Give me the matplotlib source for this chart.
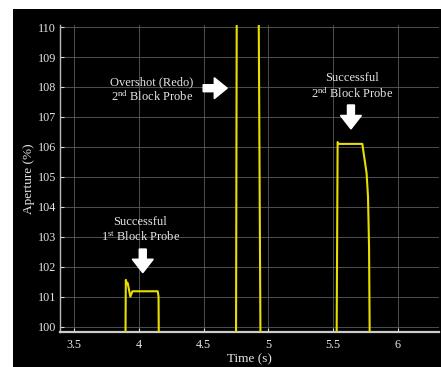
import matplotlib
matplotlib.use("Agg")
import matplotlib.pyplot as plt
from matplotlib.patches import Rectangle, FancyArrow
import numpy as np

# ---- data ----
time_s = [3.60, 3.889, 3.898, 3.905, 3.912, 3.933, 3.949, 4.145, 4.151, 4.160,
          4.60, 4.748, 4.758, 4.920, 4.945,
          5.40, 5.523, 5.536, 5.543, 5.727, 5.760, 5.771, 5.779, 5.792, 6.30]
aperture = [95.0, 95.0, 101.56, 101.45, 101.46, 101.00, 101.18, 101.18, 101.00, 95.0,
            95.0, 95.0, 115.0, 115.0, 95.0,
            95.0, 95.0, 106.16, 106.10, 106.10, 105.12, 104.34, 102.67, 95.0, 95.0]
x_ticks = [3.5, 4, 4.5, 5, 5.5, 6]
x_tick_labels = ["3.5", "4", "4.5", "5", "5.5", "6"]
y_ticks = list(range(100, 111))

plt.rcParams['font.family'] = ['Liberation Serif', 'DejaVu Serif']
plt.rcParams['mathtext.fontset'] = 'custom'
plt.rcParams['mathtext.rm'] = 'Liberation Serif'
plt.rcParams['mathtext.it'] = 'Liberation Serif:italic'

W, H = 441, 367
fig = plt.figure(figsize=(W / 100, H / 100), dpi=100, facecolor='white')
bg = Rectangle((13 / W, 0), 1 - 13 / W, (H - 9) / H,
               transform=fig.transFigure, facecolor='black',
               edgecolor='none', zorder=-10)
fig.add_artist(bg)

ax = fig.add_axes([60 / W, (H - 332) / H, (439 - 60) / W, (332 - 25) / H])
ax.set_facecolor('black')
ax.set_zorder(1)

ax.plot(time_s, aperture, color='#e8de00', lw=1.5, zorder=3)

ax.set_xlim(3.389, 6.32)
ax.set_ylim(99.82, 110.07)
ax.set_xticks(x_ticks)
ax.set_xticklabels(x_tick_labels)
ax.set_yticks(y_ticks)
ax.grid(True, color='#5c5c5c', lw=0.6)
ax.set_axisbelow(True)

for s in ['top', 'right']:
    ax.spines[s].set_visible(False)
ax.spines['left'].set_color('#bbbbbb')
ax.spines['left'].set_linewidth(1.0)
ax.spines['bottom'].set_color('#cccccc')
ax.spines['bottom'].set_linewidth(1.6)

ax.tick_params(direction='in', colors='#dddddd', labelcolor='#e6e6e6',
               labelsize=8.7, length=3, width=0.8)
ax.tick_params(axis='x', pad=5)
ax.tick_params(axis='y', pad=3)

ax.set_xlabel('Time (s)', color='#e6e6e6', fontsize=9.5, labelpad=2)
ax.set_ylabel('Aperture (%)', color='#e6e6e6', fontsize=9.5, labelpad=2)

tc = '#e6e6e6'
fs = 9
ax.text(4.01, 103.50, 'Successful', color=tc, fontsize=fs, ha='center', va='center')
ax.text(4.01, 102.98, r'1$^{\mathrm{st}}$ Block Probe', color=tc, fontsize=fs,
        ha='center', va='center')
ax.text(4.099, 108.16, 'Overshot (Redo)', color=tc, fontsize=fs, ha='center', va='center')
ax.text(4.099, 107.66, r'2$^{\mathrm{nd}}$ Block Probe', color=tc, fontsize=fs,
        ha='center', va='center')
ax.text(5.649, 108.31, 'Successful', color=tc, fontsize=fs, ha='center', va='center')
ax.text(5.649, 107.79, r'2$^{\mathrm{nd}}$ Block Probe', color=tc, fontsize=fs,
        ha='center', va='center')

# arrows
ax.add_patch(FancyArrow(4.029, 102.59, 0, -0.79, width=0.054, head_width=0.1625,
                        head_length=0.45, length_includes_head=True,
                        color='white', zorder=4))
ax.add_patch(FancyArrow(5.639, 107.40, 0, -0.80, width=0.054, head_width=0.1625,
                        head_length=0.45, length_includes_head=True,
                        color='white', zorder=4))
ax.add_patch(FancyArrow(4.496, 107.96, 0.186, 0, width=0.234, head_width=0.70,
                        head_length=0.10, length_includes_head=True,
                        color='white', zorder=4))

fig.savefig('out.png', dpi=100, facecolor='white')
